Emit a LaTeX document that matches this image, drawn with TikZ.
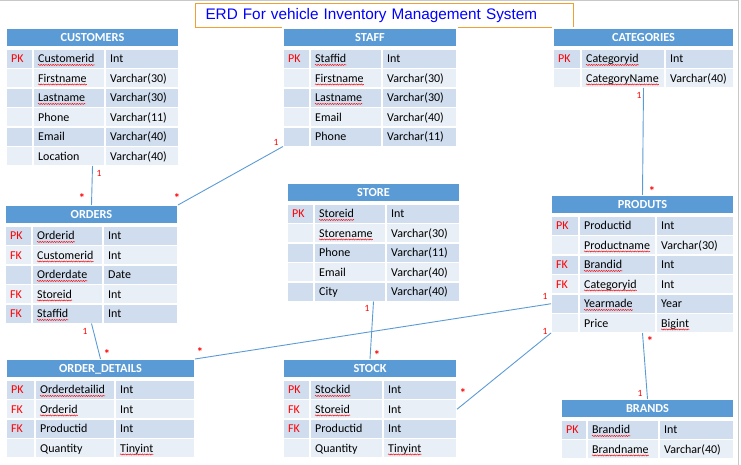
\documentclass[tikz,border=0pt]{standalone}
\usepackage{fontspec}
\setmainfont{Carlito}
\newfontfamily\titlefont{Liberation Sans}
\usetikzlibrary{fit,decorations.pathmorphing}

\definecolor{headblue}{HTML}{5B9BD5}
\definecolor{rowdark}{HTML}{CFDDEE}
\definecolor{rowlight}{HTML}{E9EFF7}
\definecolor{keyred}{HTML}{FF0000}
\definecolor{linkblue}{HTML}{5B9BD5}
\definecolor{titleblue}{HTML}{0000FF}
\definecolor{titleorange}{HTML}{F0A030}
\definecolor{framegray}{HTML}{C8C8C8}

\tikzset{
  cellbox/.style={draw=white, line width=1.2pt, inner sep=0pt, outer sep=0pt, anchor=north west, minimum height=19.5pt},
  headbox/.style={cellbox, fill=headblue, minimum height=19pt, text=white, font=\fontsize{12.3}{12}\selectfont\bfseries, text height=7.8pt, text depth=0pt},
  celltext/.style={inner sep=0pt, anchor=west, text height=7.8pt, text depth=0pt, font=\fontsize{12}{12}\selectfont},
  keytext/.style={celltext, text=keyred},
  spell/.style={draw=keyred, line width=0.45pt, decorate, decoration={snake, amplitude=0.55pt, segment length=2.4pt}},
  link/.style={draw=linkblue, line width=0.9pt},
  card/.style={inner sep=0pt, text=keyred, font=\fontsize{9.5}{9.5}\selectfont},
  many/.style={card, font=\fontsize{12.5}{12}\selectfont\bfseries, text height=8pt, text depth=-4.5pt},
}

% #1 name, #2 left, #3 top, #4 #5 #6 column widths, #7 title,
% #8 rows: key/name/type/squiggle under name/squiggle under type
\newcommand{\erdtable}[8]{%
  \pgfmathsetmacro{\tabw}{#4+#5+#6}
  \node[headbox, minimum width=\tabw pt] (#1-h) at (#2,#3) {#7};
  \foreach \fk/\fn/\ft/\qn/\qt [count=\rowi] in {#8} {
    \pgfmathsetmacro{\rowy}{#3+21+(\rowi-1)*19.5}
    \ifodd\rowi \def\rowfill{rowdark}\else \def\rowfill{rowlight}\fi
    \node[cellbox, fill=\rowfill, minimum width=#4pt] (#1-\rowi-1) at (#2,\rowy) {};
    \node[cellbox, fill=\rowfill, minimum width=#5pt] (#1-\rowi-2) at (#1-\rowi-1.north east) {};
    \node[cellbox, fill=\rowfill, minimum width=#6pt] (#1-\rowi-3) at (#1-\rowi-2.north east) {};
    \node[keytext] (#1-\rowi-1-t) at ([xshift=5pt]#1-\rowi-1.west) {\fk};
    \node[celltext] (#1-\rowi-2-t) at ([xshift=5pt]#1-\rowi-2.west) {\fn};
    \node[celltext] (#1-\rowi-3-t) at ([xshift=5pt]#1-\rowi-3.west) {\ft};
    \ifnum\qn=1 \draw[spell] ([yshift=-2.3pt]#1-\rowi-2-t.base west) -- ([yshift=-2.3pt]#1-\rowi-2-t.base east);\fi
    \ifnum\qt=1 \draw[spell] ([yshift=-2.3pt]#1-\rowi-3-t.base west) -- ([yshift=-2.3pt]#1-\rowi-3-t.base east);\fi
    \coordinate (#1-last) at (#1-\rowi-3.south east);
  }
  \node[fit=(#1-h)(#1-last), inner sep=0pt, outer sep=0pt] (#1) {};
}

\begin{document}
\begin{tikzpicture}[x=1pt, y=-1pt]
  \useasboundingbox (0,0) rectangle (741,465);
  \draw[framegray, line width=1pt] (0,1) -- (738.5,1) -- (738.5,465);

  \node[draw=titleorange, line width=1pt, fill=white, anchor=north west,
    minimum width=378pt, minimum height=24pt, text width=358pt,
    inner xsep=10pt, inner ysep=0pt, align=left, text=titleblue,
    font=\titlefont\fontsize{15.3}{16}\selectfont] (title) at (195,3)
    {ERD For vehicle Inventory Management System};

  % tables
  \erdtable{customers}{6}{28}{27}{72}{74}{CUSTOMERS}{PK/Customerid/Int/1/0, /Firstname/Varchar(30)/1/0, /Lastname/Varchar(30)/1/0, /Phone/Varchar(11)/0/0, /Email/Varchar(40)/0/0, /Location/Varchar(40)/0/0}
  \erdtable{staff}{283}{28}{27}{72}{75}{STAFF}{PK/Staffid/Int/1/0, /Firstname/Varchar(30)/1/0, /Lastname/Varchar(30)/1/0, /Email/Varchar(40)/0/0, /Phone/Varchar(11)/0/0}
  \erdtable{categories}{553}{28}{28}{84}{69}{CATEGORIES}{PK/Categoryid/Int/1/0, /CategoryName/Varchar(40)/1/0}
  \erdtable{orders}{5}{205}{27}{71}{75}{ORDERS}{PK/Orderid/Int/1/0, FK/Customerid/Int/1/0, /Orderdate/Date/1/0, FK/Storeid/Int/1/0, FK/Staffid/Int/1/0}
  \erdtable{store}{287}{183}{27}{72}{74}{STORE}{PK/Storeid/Int/1/0, /Storename/Varchar(30)/1/0, /Phone/Varchar(11)/0/0, /Email/Varchar(40)/0/0, /City/Varchar(40)/0/0}
  \erdtable{produts}{551}{195}{28}{77}{78}{PRODUTS}{PK/Productid/Int/0/0, /Productname/Varchar(30)/1/0, FK/Brandid/Int/1/0, FK/Categoryid/Int/1/0, /Yearmade/Year/1/0, /Price/Bigint/0/1}
  \erdtable{orderdetails}{6}{359}{29}{80}{80}{ORDER\_DETAILS}{PK/Orderdetailid/Int/1/0, FK/Orderid/Int/1/0, FK/Productid/Int/0/0, /Quantity/Tinyint/0/1}
  \erdtable{stock}{283}{359}{27}{73}{74}{STOCK}{PK/Stockid/Int/1/0, FK/Storeid/Int/1/0, FK/Productid/Int/0/0, /Quantity/Tinyint/0/1}
  \erdtable{brands}{561}{399}{26}{72}{75}{BRANDS}{PK/Brandid/Int/1/0, /Brandname/Varchar(40)/1/0}

  % relationships
  \draw[link] (customers.south) -- (orders.north);
  \draw[link] (staff.south west) -- (orders.north east);
  \draw[link] (orders.south) -- (orderdetails.north);
  \draw[link] (orderdetails.north east) -- (produts-5-1.west);
  \draw[link] (store.south) -- (stock.north);
  \draw[link] (stock-2-3.east) -- (produts.south west);
  \draw[link] (categories.south) -- (produts.north);
  \draw[link] (produts.south) -- (brands.north);

  % cardinalities
  \node[card] (c1a) at (99,173) {1};
  \node[many] (c1b) at (82,199) {*};
  \node[card] (c2a) at (276,142) {1};
  \node[many] (c2b) at (177,199) {*};
  \node[card] (c3a) at (85,331) {1};
  \node[many] (c3b) at (107,354) {*};
  \node[many] (c4a) at (200,352) {*};
  \node[card] (c4b) at (545,296) {1};
  \node[card] (c5a) at (367,308) {1};
  \node[many] (c5b) at (377,355) {*};
  \node[many] (c6a) at (463,393) {*};
  \node[card] (c6b) at (545,331) {1};
  \node[card] (c7a) at (639,95) {1};
  \node[many] (c7b) at (652,192) {*};
  \node[many] (c8a) at (650,341) {*};
  \node[card] (c8b) at (640,393) {1};
\end{tikzpicture}
\end{document}
